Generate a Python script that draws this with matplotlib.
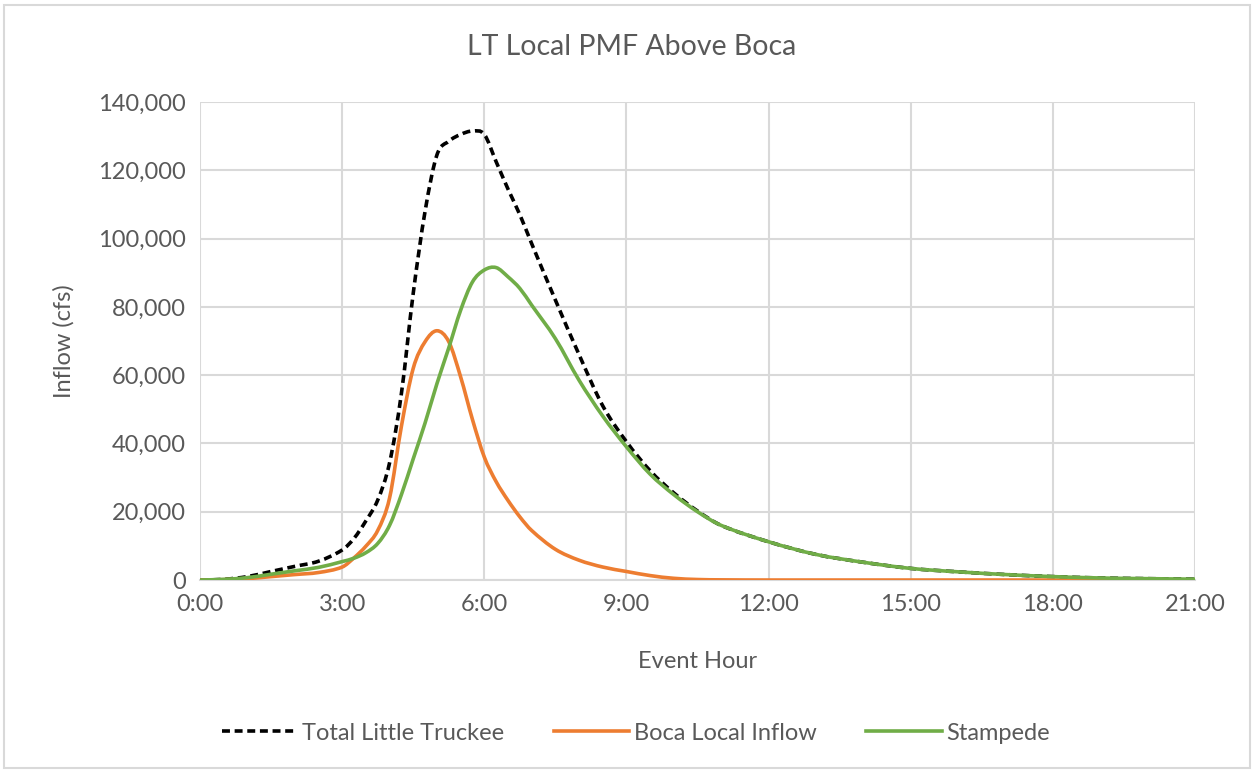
import numpy as np
import matplotlib.pyplot as plt
from matplotlib.ticker import FuncFormatter, MultipleLocator
from matplotlib.patches import Rectangle, PathPatch
from matplotlib.path import Path
from matplotlib.lines import Line2D

plt.rcParams['font.family'] = ['Lato', 'DejaVu Sans']

# event hour
hours = [0, 0.5, 1, 1.5, 2, 2.5, 3, 3.25, 3.5, 3.75, 4, 4.25, 4.5, 4.75, 5, 5.25, 5.5, 5.75,
         6, 6.25, 6.5, 6.75, 7, 7.5, 8, 8.5, 9, 9.5, 10, 10.5, 11, 12, 13, 14, 15, 16, 17, 18,
         19, 20, 21]

total_lt = [0, 200, 1000, 2500, 4000, 5500, 8800, 12200, 17300, 23400, 34300, 54600, 84000,
            108000, 124500, 128500, 130500, 131500, 130500, 122500, 114500, 107000, 98500,
            82000, 66000, 51000, 40500, 32000, 25500, 20200, 16000, 11200, 7500, 5200, 3400,
            2400, 1600, 1000, 600, 400, 250]

boca_local = [0, 100, 400, 1000, 1600, 2200, 3800, 6500, 9900, 14500, 24000, 45000, 62000,
              69800, 73000, 69800, 59500, 47000, 36000, 28800, 23300, 18500, 14500, 9000,
              5800, 3800, 2500, 1300, 500, 150, 50, 0, 0, 0, 0, 0, 0, 0, 0, 0, 0]

stampede = [0, 200, 700, 1700, 2700, 3700, 5400, 6400, 8000, 10700, 16000, 25000, 35500,
            46000, 57500, 68000, 79000, 87300, 90800, 91500, 88800, 85400, 80500, 70700,
            58500, 48000, 39000, 31000, 25000, 20000, 16000, 11200, 7500, 5200, 3400, 2400,
            1600, 1000, 600, 400, 250]


def smooth_path(x, y):
    # Excel-style smoothed line: cubic bezier segments with finite-difference tangents
    x = np.asarray(x, float)
    y = np.asarray(y, float)
    n = len(x)
    m = np.zeros(n)
    m[0] = (y[1] - y[0]) / (x[1] - x[0])
    m[-1] = (y[-1] - y[-2]) / (x[-1] - x[-2])
    m[1:-1] = (y[2:] - y[:-2]) / (x[2:] - x[:-2])
    verts = [(x[0], y[0])]
    codes = [Path.MOVETO]
    for i in range(n - 1):
        h = x[i + 1] - x[i]
        verts += [(x[i] + h / 3, y[i] + m[i] * h / 3),
                  (x[i + 1] - h / 3, y[i + 1] - m[i + 1] * h / 3),
                  (x[i + 1], y[i + 1])]
        codes += [Path.CURVE4] * 3
    return Path(verts, codes)


fig = plt.figure(figsize=(12.54, 7.71), dpi=100)
fig.patches.append(Rectangle((0.003, 0.004), 0.994, 0.99, transform=fig.transFigure,
                             fill=False, edgecolor='#D9D9D9', linewidth=1.5))
ax = fig.add_axes([0.1595, 0.2477, 0.7935, 0.62])

series = [
    ('Total Little Truckee', total_lt, 'black', (0, (2.2, 1.3))),
    ('Boca Local Inflow', boca_local, '#ED7D31', 'solid'),
    ('Stampede', stampede, '#70AD47', 'solid'),
]
handles = []
for name, vals, col, ls in series:
    patch = PathPatch(smooth_path(hours, vals), fill=False, edgecolor=col, linewidth=2.6,
                      linestyle=ls, zorder=3, capstyle='butt')
    ax.add_patch(patch)
    handles.append(Line2D([], [], color=col, linewidth=2.6, linestyle=ls, label=name))

ax.set_xlim(0, 21)
ax.set_ylim(0, 140000)
ax.xaxis.set_major_locator(MultipleLocator(3))
ax.yaxis.set_major_locator(MultipleLocator(20000))
ax.xaxis.set_major_formatter(FuncFormatter(lambda v, p: f"{int(v)}:00"))
ax.yaxis.set_major_formatter(FuncFormatter(lambda v, p: f"{int(v):,}"))
ax.grid(True, color='#D9D9D9', linewidth=1.5)
ax.set_axisbelow(True)
for s in ['top', 'right', 'left']:
    ax.spines[s].set_visible(False)
ax.spines['bottom'].set_color('#D9D9D9')
ax.spines['bottom'].set_linewidth(1.5)
ax.tick_params(length=0, labelsize=17, colors='#595959', pad=10)

fig.text(0.504, 0.939, 'LT Local PMF Above Boca', fontsize=20.5, color='#595959',
         ha='center', va='center')
ax.set_xlabel('Event Hour', fontsize=17, color='#595959', labelpad=26)
ax.set_ylabel('Inflow (cfs)', fontsize=17, color='#595959', labelpad=17)

leg = fig.legend(handles=handles, loc='center', bbox_to_anchor=(0.507, 0.049), ncol=3,
                 frameon=False, fontsize=17, handlelength=3.2, columnspacing=2.1,
                 handletextpad=0.2)
for t in leg.get_texts():
    t.set_color('#595959')

fig.savefig('out.png', dpi=100)
